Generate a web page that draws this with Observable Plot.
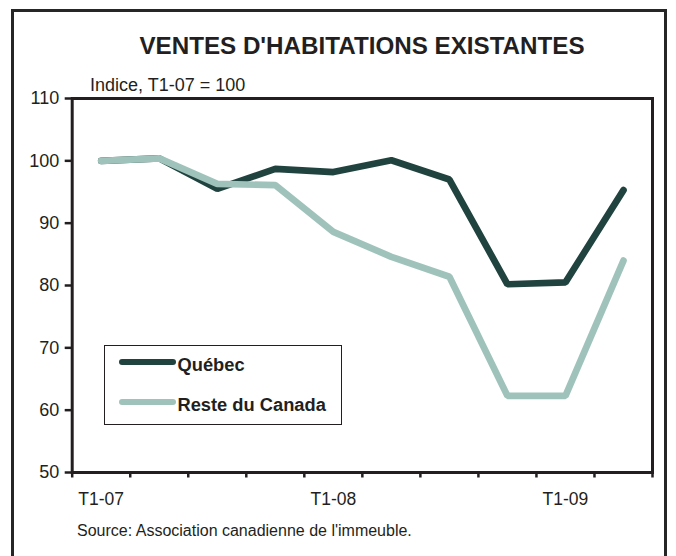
<!DOCTYPE html>
<html>
<head>
<meta charset="utf-8">
<script src="https://cdn.jsdelivr.net/npm/d3@7"></script>
<script src="https://cdn.jsdelivr.net/npm/@observablehq/plot@0.6"></script>
<style>
  html, body { margin: 0; padding: 0; background: #fff; }
  #wrap { position: relative; width: 676px; height: 556px; overflow: hidden;
          font-family: "Liberation Sans", Arial, sans-serif; color: #231f20; }
  #wrap svg { position: absolute; left: 0; top: 0; }
  .abs { position: absolute; white-space: nowrap; }
  #outer { left: 11px; top: 9px; width: 656px; height: 600px; border: 3px solid #262626; box-sizing: border-box; }
  #title { left: 62px; width: 600px; top: 34px; text-align: center; font-weight: bold; font-size: 24.2px; line-height: 24.2px; }
  #subtitle { left: 90px; top: 75.8px; font-size: 18px; line-height: 18px; }
  #source { left: 77px; top: 523.2px; font-size: 16px; line-height: 16px; }
  #legend { left: 104px; top: 345px; width: 238px; height: 80px; border: 1.5px solid #231f20; background: #fff; box-sizing: border-box; }
  .lgline { position: absolute; height: 6.7px; border-radius: 3.4px; }
  .lgtext { position: absolute; font-weight: bold; font-size: 18.3px; line-height: 18.3px; }
</style>
</head>
<body>
<div id="wrap">
  <div id="outer" class="abs"></div>
</div>
<script>
// ---- data ----
const quarters = ["T1-07","T2-07","T3-07","T4-07","T1-08","T2-08","T3-08","T4-08","T1-09","T2-09"];
const quebec   = [100, 100.4, 95.5, 98.7, 98.2, 100.1, 97.0, 80.2, 80.5, 95.3];
const reste    = [100, 100.4, 96.3, 96.1, 88.6, 84.6, 81.4, 62.3, 62.3, 84.0];
const yTicks   = [50, 60, 70, 80, 90, 100, 110];
const labelQuarters = ["T1-07", "T1-08", "T1-09"];
const seriesNames = ["Québec", "Reste du Canada"];
const colors = ["#21433f", "#9fc3bb"];

const rows = quarters.map((q, i) => ({i, q, quebec: quebec[i], reste: reste[i]}));
const boundaries = quarters.map((_, i) => i - 0.5).concat([quarters.length - 0.5]);
const labelIdx = labelQuarters.map(q => quarters.indexOf(q));

const ink = "#231f20";
const chart = Plot.plot({
  width: 676,
  height: 556,
  marginLeft: 71.7,
  marginRight: 24,
  marginTop: 98,
  marginBottom: 84,
  style: {fontFamily: '"Liberation Sans", Arial, sans-serif', color: ink, background: "transparent"},
  x: {type: "linear", domain: [-0.5, quarters.length - 0.5]},
  y: {domain: [50, 110]},
  marks: [
    Plot.line(rows, {x: "i", y: "quebec", stroke: colors[0], strokeWidth: 6.7, strokeLinejoin: "miter", strokeLinecap: "round"}),
    Plot.line(rows, {x: "i", y: "reste", stroke: colors[1], strokeWidth: 6.7, strokeLinejoin: "miter", strokeLinecap: "round"}),
    Plot.frame({stroke: ink, strokeWidth: 3}),
    Plot.axisY(yTicks, {tickSize: 7, tickPadding: 6, fontSize: 18, label: null, stroke: ink, strokeWidth: 2.5, fill: ink}),
    Plot.axisX(boundaries, {tickSize: 5.5, tickFormat: () => "", label: null, stroke: ink, strokeWidth: 2.5}),
    Plot.axisX(labelIdx, {tickSize: 0, tickPadding: 20, tickFormat: i => quarters[i], fontSize: 17.5, label: null, fill: ink})
  ]
});

const wrap = document.getElementById("wrap");
wrap.appendChild(chart);

function addDiv(id, cls, text) {
  const d = document.createElement("div");
  if (id) d.id = id;
  d.className = cls;
  if (text != null) d.textContent = text;
  wrap.appendChild(d);
  return d;
}
addDiv("title", "abs", "VENTES D'HABITATIONS EXISTANTES");
addDiv("subtitle", "abs", "Indice, T1-07 = 100");
addDiv("source", "abs", "Source: Association canadienne de l'immeuble.");

const legend = addDiv("legend", "abs");
seriesNames.forEach((name, k) => {
  const line = document.createElement("div");
  line.className = "lgline";
  line.style.left = "13.5px";
  line.style.top = (12.5 + k * 40) + "px";
  line.style.width = "57px";
  line.style.background = colors[k];
  legend.appendChild(line);
  const t = document.createElement("div");
  t.className = "lgtext";
  t.style.left = "72.5px";
  t.style.top = (9.8 + k * 40) + "px";
  t.textContent = name;
  legend.appendChild(t);
});
</script>
</body>
</html>
